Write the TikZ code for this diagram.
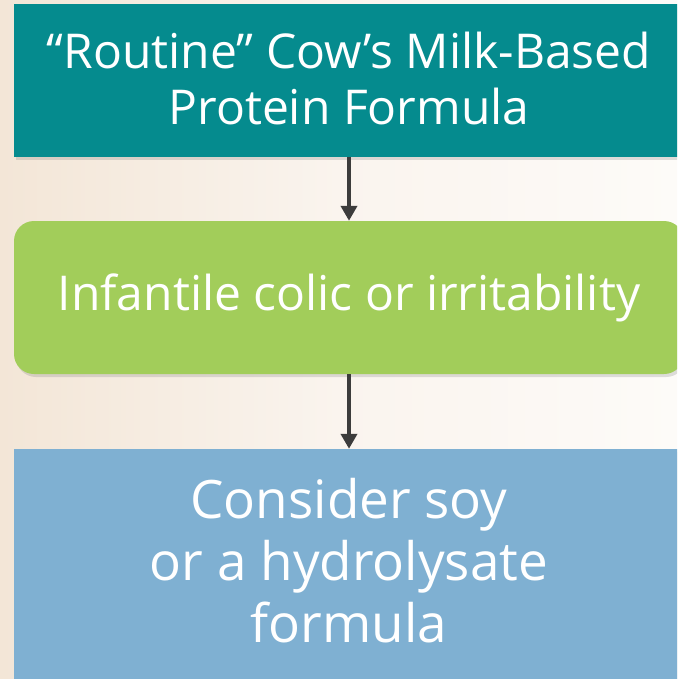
\documentclass[tikz,border=0pt]{standalone}
\usepackage{fontspec}
\setmainfont{Open Sans}
\usetikzlibrary{arrows.meta,shadows,positioning}

\definecolor{tealbox}{RGB}{5,139,142}
\definecolor{greenbox}{RGB}{162,205,90}
\definecolor{bluebox}{RGB}{127,176,210}
\definecolor{arrowgray}{RGB}{60,60,60}
\definecolor{bgleft}{RGB}{243,230,215}
\definecolor{bgmid}{RGB}{250,244,238}
\definecolor{bgright}{RGB}{253,251,248}

\tikzset{
  flowbox/.style={draw=none, text=white, align=center, minimum width=670pt,
    inner sep=0pt, drop shadow={shadow xshift=2pt, shadow yshift=-3pt, opacity=0.25}},
  flowarrow/.style={arrowgray, line width=4pt,
    -{Triangle[width=16pt,length=15pt]}}
}

\begin{document}
\begin{tikzpicture}[x=1pt,y=1pt]
                        % Page
                        \path[use as bounding box, clip] (0,0) rectangle (677,-679);
                        \shade[left color=bgleft, right color=bgright, middle color=bgmid] (0,0) rectangle (677,-679);

                        % Boxes
                        \node [flowbox, fill=tealbox, minimum height=153pt, text depth=5pt,
                               font=\fontsize{48}{56}\selectfont] (routine) at (349,-80.5)
                              {“Routine” Cow’s Milk-Based\\Protein Formula};
                        \node [flowbox, fill=greenbox, minimum height=153pt, rounded corners=20pt,
                               font=\fontsize{48}{56}\selectfont] (colic) at (349,-297.5)
                              {Infantile colic or irritability};
                        \node [flowbox, fill=bluebox, minimum height=230pt, text depth=8pt,
                               font=\fontsize{53}{62}\selectfont] (consider) at (349,-564)
                              {Consider soy\\or a hydrolysate\\formula};

                        % Arrows
                        \draw [flowarrow] (routine.south) -- (colic.north);
                        \draw [flowarrow] (colic.south) -- (consider.north);
\end{tikzpicture}
\end{document}
